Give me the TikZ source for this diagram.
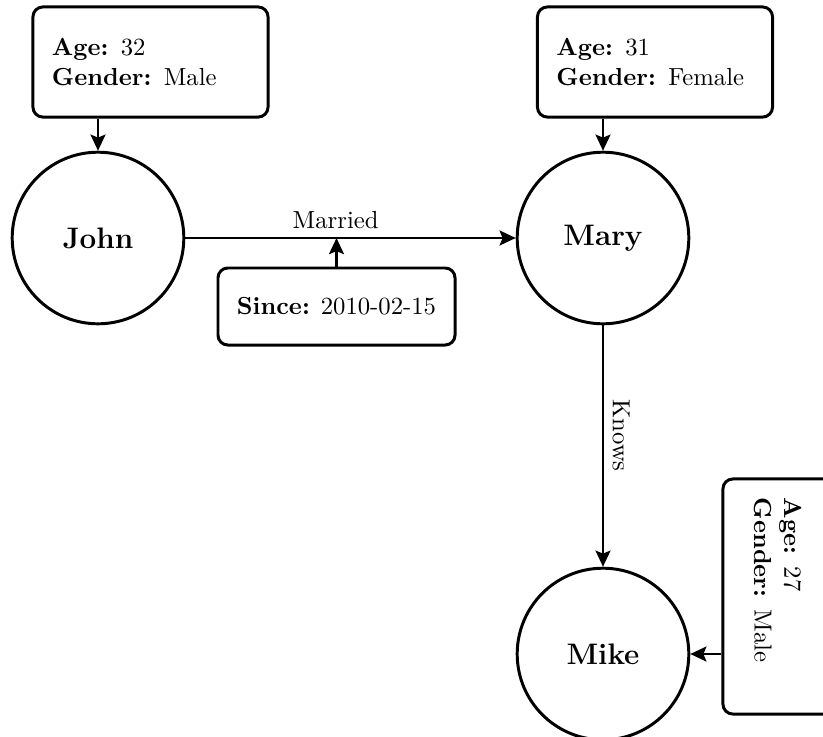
\documentclass[tikz,border=0pt]{standalone}
\usetikzlibrary{arrows.meta}
\begin{document}
\begin{tikzpicture}[x=0.405pt, y=-0.405pt,
  line width=1.2pt,
  link/.style={-{Stealth[length=6.5pt, width=6pt, inset=1.2pt]}},
  person/.style={draw, circle, minimum size=69.5pt, inner sep=0pt, font=\large\bfseries},
  props/.style={draw, rounded corners=4pt, minimum width=95.2pt, minimum height=44.6pt,
    text width=79.8pt, inner xsep=7.7pt, align=left},
  relprops/.style={draw, rounded corners=4pt, minimum width=96pt, minimum height=31.2pt}]
  \useasboundingbox (0,0) rectangle (823,737);

  % people
  \node[person] (john) at (98,238) {John};
  \node[person] (mary) at (603,238) {Mary};
  \node[person] (mike) at (603,654) {Mike};

  % property boxes
  \node[props] (johnprops) at (150.5,62) {\textbf{Age:} 32\\\textbf{Gender:} Male};
  \node[props] (maryprops) at (655,62) {\textbf{Age:} 31\\\textbf{Gender:} Female};
  \node[props, rotate=-90] (mikeprops) at (778,596.5) {\textbf{Age:} 27\\\textbf{Gender:} Male};
  \node[relprops] (since) at (336.5,306.5) {\textbf{Since:} 2010-02-15};

  % relations
  \draw[link] (john) -- node[pos=0.455, above] (married) {Married} (mary);
  \draw[link] (mary) -- node[pos=0.457, above, sloped] (knows) {Knows} (mike);

  % property attachments
  \draw[link] (john.north |- johnprops.south) -- (john.north);
  \draw[link] (mary.north |- maryprops.south) -- (mary.north);
  \draw[link] (mikeprops.south |- mike.east) -- (mike.east);
  \draw[link] (since.north) -- (since.north |- john.east);
\end{tikzpicture}
\end{document}
